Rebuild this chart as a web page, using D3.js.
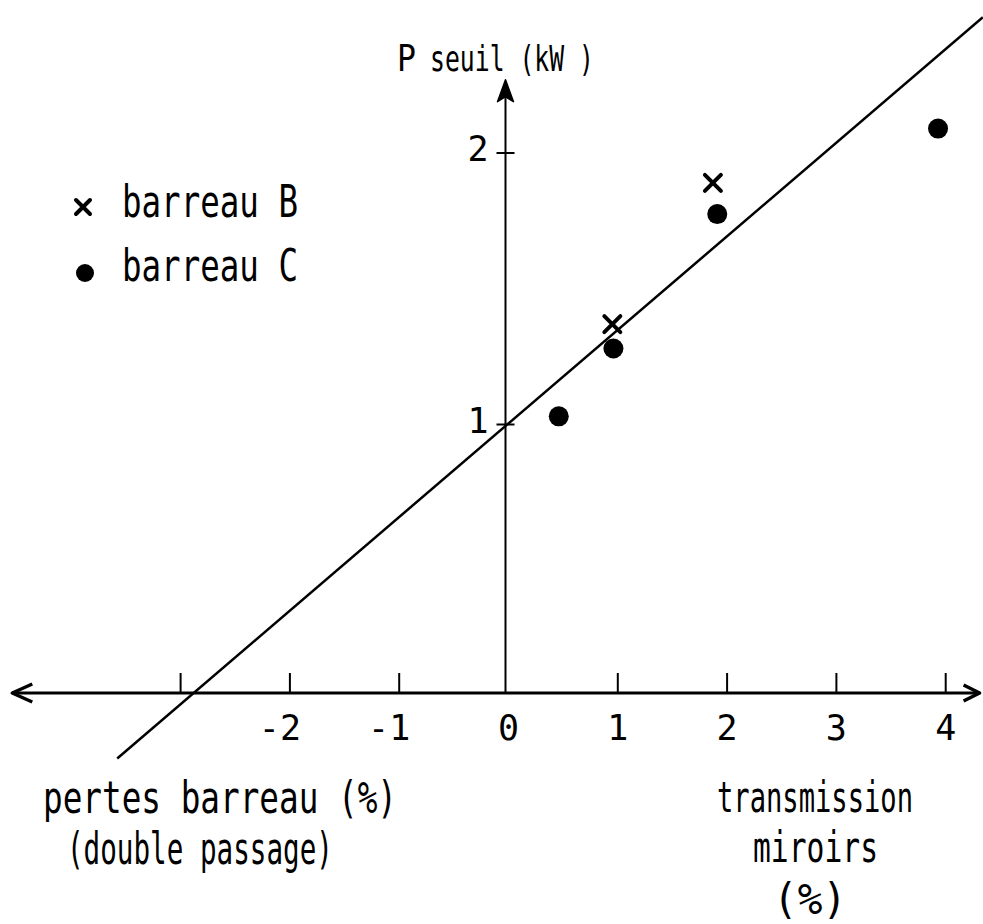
<!DOCTYPE html>
<html>
<head>
<meta charset="utf-8">
<script src="https://cdn.jsdelivr.net/npm/d3@7"></script>
<style>
  html, body { margin: 0; padding: 0; background: #fff; }
  svg { display: block; }
  text { font-family: "DejaVu Sans Mono", "Liberation Mono", monospace; fill: #000; }
</style>
</head>
<body>
<div id="chart"></div>
<script>
// data
var xTicks = [-3, -2, -1, 1, 2, 3, 4];
var xTickLabels = ['', '-2', '-1', '1', '2', '3', '4'];
var yTicks = [1, 2];
var barreauB = [[0.95, 1.37], [1.87, 1.89]];
var barreauC = [[0.46, 1.03], [0.96, 1.28], [1.91, 1.775], [3.93, 2.09]];
var fitX = [-3.58, 4.34];
var fitP = [-0.23, 2.50];

var W = 983, H = 924;
var svg = d3.select('#chart').append('svg')
    .attr('width', W).attr('height', H);

var x = d3.scaleLinear().domain([0, 4]).range([508.5, 945.7]);
var y = d3.scaleLinear().domain([0, 2]).range([696, 153]);

var axisY = 693;     // horizontal axis line
var xMin = -4.54, xMax = 4.31, yTop = 2.27;

// horizontal axis with open arrows at both ends
svg.append('line')
    .attr('x1', x(xMin)).attr('x2', x(xMax))
    .attr('y1', axisY).attr('y2', axisY)
    .attr('stroke', '#000').attr('stroke-width', 3);
svg.append('path')
    .attr('d', 'M' + (x(xMin) + 20) + ',' + (axisY - 9) + 'L' + x(xMin) + ',' + axisY + 'L' + (x(xMin) + 20) + ',' + (axisY + 9))
    .attr('fill', 'none').attr('stroke', '#000').attr('stroke-width', 3.5).attr('stroke-linejoin', 'round');
svg.append('path')
    .attr('d', 'M' + (x(xMax) - 16) + ',' + (axisY - 8) + 'L' + x(xMax) + ',' + axisY + 'L' + (x(xMax) - 16) + ',' + (axisY + 8))
    .attr('fill', 'none').attr('stroke', '#000').attr('stroke-width', 3.5).attr('stroke-linejoin', 'round');

// ticks above the axis
svg.selectAll('.xtick')
  .data(xTicks)
  .enter()
  .append('line')
    .attr('x1', function(d){ return x(d); }).attr('x2', function(d){ return x(d); })
    .attr('y1', axisY - 20).attr('y2', axisY)
    .attr('stroke', '#000').attr('stroke-width', 2);

svg.selectAll('.xlab')
  .data(xTicks)
  .enter()
  .append('text')
    .attr('x', function(d){ return d < 0 ? x(d) - 10 : x(d); })
    .attr('y', 740)
    .attr('text-anchor', 'middle')
    .attr('font-size', 35)
    .text(function(d, i){ return xTickLabels[i]; });
svg.append('text')
    .attr('x', x(0)).attr('y', 740)
    .attr('text-anchor', 'middle').attr('font-size', 35)
    .text('0');

// vertical axis with filled arrow
svg.append('line')
    .attr('x1', x(0) - 3).attr('x2', x(0) - 3)
    .attr('y1', axisY).attr('y2', y(yTop) + 12)
    .attr('stroke', '#000').attr('stroke-width', 2);
svg.append('path')
    .attr('d', 'M' + (x(0) - 3) + ',' + y(yTop) + 'L' + (x(0) - 11) + ',' + (y(yTop) + 22)
        + 'L' + (x(0) - 3) + ',' + (y(yTop) + 17) + 'L' + (x(0) + 5) + ',' + (y(yTop) + 22) + 'Z')
    .attr('fill', '#000').attr('stroke', '#000').attr('stroke-width', 1.5).attr('stroke-linejoin', 'round');

svg.selectAll('.ytick')
  .data(yTicks)
  .enter()
  .append('line')
    .attr('x1', x(0) - 12).attr('x2', x(0) + 6)
    .attr('y1', function(d){ return y(d); }).attr('y2', function(d){ return y(d); })
    .attr('stroke', '#000').attr('stroke-width', 2);
svg.selectAll('.ylab')
  .data(yTicks)
  .enter()
  .append('text')
    .attr('x', 478)
    .attr('y', function(d){ return y(d) + 8; })
    .attr('text-anchor', 'middle')
    .attr('font-size', 35)
    .text(function(d){ return d; });

// axis title
svg.append('text')
    .attr('x', 397).attr('y', 71)
    .attr('font-size', 38)
    .attr('textLength', 19).attr('lengthAdjust', 'spacingAndGlyphs')
    .text('P');
svg.append('text')
    .attr('x', 430).attr('y', 71)
    .attr('font-size', 36)
    .attr('textLength', 164).attr('lengthAdjust', 'spacingAndGlyphs')
    .text('seuil (kW )');

// fitted line
var line = d3.line()
    .x(function(d){ return x(d[0]); })
    .y(function(d){ return y(d[1]); });
svg.append('path')
    .datum(d3.zip(fitX, fitP))
    .attr('d', line)
    .attr('fill', 'none').attr('stroke', '#000').attr('stroke-width', 2.5);

// markers
function cross(g, cx, cy, s) {
  g.append('path')
    .attr('d', 'M' + (cx - s) + ',' + (cy - s) + 'L' + (cx + s) + ',' + (cy + s)
        + 'M' + (cx - s) + ',' + (cy + s) + 'L' + (cx + s) + ',' + (cy - s))
    .attr('stroke', '#000').attr('stroke-width', 4).attr('stroke-linecap', 'round');
}
barreauB.forEach(function(d){ cross(svg, x(d[0]), y(d[1]), 8); });

svg.selectAll('.dotC')
  .data(barreauC)
  .enter()
  .append('circle')
    .attr('cx', function(d){ return x(d[0]); })
    .attr('cy', function(d){ return y(d[1]); })
    .attr('r', 10)
    .attr('fill', '#000');

// legend
cross(svg, 83, 207, 7);
svg.append('circle').attr('cx', 85).attr('cy', 273).attr('r', 9).attr('fill', '#000');
svg.append('text')
    .attr('x', 122).attr('y', 217).attr('font-size', 44)
    .attr('textLength', 176).attr('lengthAdjust', 'spacingAndGlyphs')
    .text('barreau B');
svg.append('text')
    .attr('x', 122).attr('y', 281).attr('font-size', 44)
    .attr('textLength', 176).attr('lengthAdjust', 'spacingAndGlyphs')
    .text('barreau C');

// bottom labels (tall narrow lettering: font scaled vertically)
function label(tx, ty, size, len, str) {
  svg.append('text')
      .attr('transform', 'translate(' + tx + ',' + ty + ') scale(1,1.2)')
      .attr('font-size', size)
      .attr('textLength', len).attr('lengthAdjust', 'spacingAndGlyphs')
      .text(str);
}
label(43, 813, 37, 354, 'pertes barreau (%)');
label(67, 864, 37, 266, '(double passage)');
label(717, 812, 36, 196, 'transmission');
label(753, 862, 36, 125, 'miroirs');
label(773, 914, 35, 74, '(%)');
</script>
</body>
</html>
